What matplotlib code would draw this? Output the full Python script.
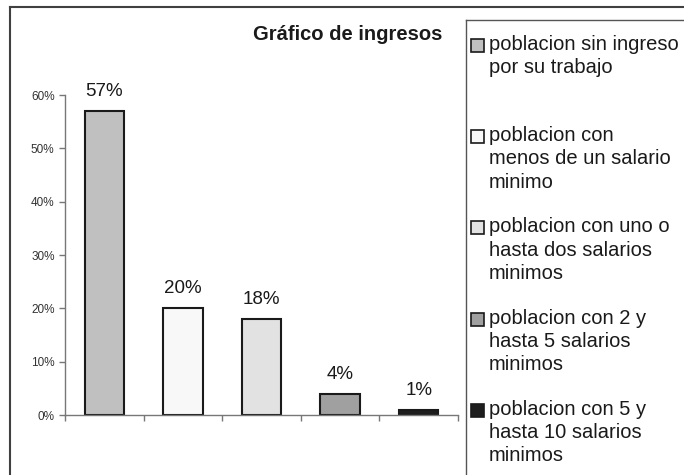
import matplotlib.pyplot as plt
from matplotlib.patches import Rectangle
from matplotlib.lines import Line2D

plt.rcParams['font.family'] = ['Liberation Sans', 'DejaVu Sans']

# datos
categorias = ['poblacion sin ingreso\npor su trabajo',
              'poblacion con\nmenos de un salario\nminimo',
              'poblacion con uno o\nhasta dos salarios\nminimos',
              'poblacion con 2 y\nhasta 5 salarios\nminimos',
              'poblacion con 5 y\nhasta 10 salarios\nminimos']
valores = [0.57, 0.20, 0.18, 0.04, 0.01]
etiquetas = ['57%', '20%', '18%', '4%', '1%']
colores = ['#c0c0c0', '#f8f8f8', '#e2e2e2', '#a0a0a0', '#1e1e1e']
ticks_y = [0, 0.1, 0.2, 0.3, 0.4, 0.5, 0.6]
ticks_y_txt = ['0%', '10%', '20%', '30%', '40%', '50%', '60%']

W, H = 684, 475
fig = plt.figure(figsize=(W / 100, H / 100), dpi=100)

def fx(px):
    return px / W

def fy(py):
    return 1 - py / H

# marco exterior
fig.add_artist(Line2D([fx(10), fx(10)], [fy(7), 0], color='#404040', lw=1.5))
fig.add_artist(Line2D([fx(10), 1], [fy(7), fy(7)], color='#404040', lw=1.5))

ax = fig.add_axes([fx(65), fy(415), fx(458) - fx(65), fy(95) - fy(415)])
x = list(range(len(valores)))
ax.bar(x, valores, width=0.5, color=colores, edgecolor='#1a1a1a', linewidth=1.5)
for xi, v, t in zip(x, valores, etiquetas):
    ax.annotate(t, (xi, v), xytext=(0, 8), textcoords='offset points',
                ha='center', va='bottom', fontsize=13.5, color='#1a1a1a')

ax.set_xlim(-0.5, len(valores) - 0.5)
ax.set_ylim(0, 0.6)
ax.set_yticks(ticks_y)
ax.set_yticklabels(ticks_y_txt, fontsize=8.5, color='#333333')
ax.set_xticks([i + 0.5 for i in range(-1, len(valores))])
ax.set_xticklabels([])
ax.tick_params(axis='both', direction='out', length=4, color='#777777', width=1)
for s in ['top', 'right']:
    ax.spines[s].set_visible(False)
for s in ['left', 'bottom']:
    ax.spines[s].set_color('#777777')
    ax.spines[s].set_linewidth(1)
ax.set_facecolor('none')

fig.text(fx(348), fy(40), 'Gráfico de ingresos', ha='center', va='baseline',
         fontsize=14.5, fontweight='bold', color='#1a1a1a')

# leyenda manual
fig.add_artist(Line2D([fx(466), fx(466)], [fy(20), 0], color='#555555', lw=1))
fig.add_artist(Line2D([fx(466), 1], [fy(20), fy(20)], color='#555555', lw=1))
base0 = 51
for i, (lab, col) in enumerate(zip(categorias, colores)):
    yb = base0 + i * 91.25
    fig.add_artist(Rectangle((fx(471), fy(yb + 1)), fx(13), 13 / H,
                             facecolor=col, edgecolor='#1a1a1a', lw=1.2))
    fig.text(fx(489), fy(yb - 16), lab, ha='left', va='top', fontsize=14.5,
             color='#1a1a1a', linespacing=1.28)

fig.savefig('out.png', dpi=100)
